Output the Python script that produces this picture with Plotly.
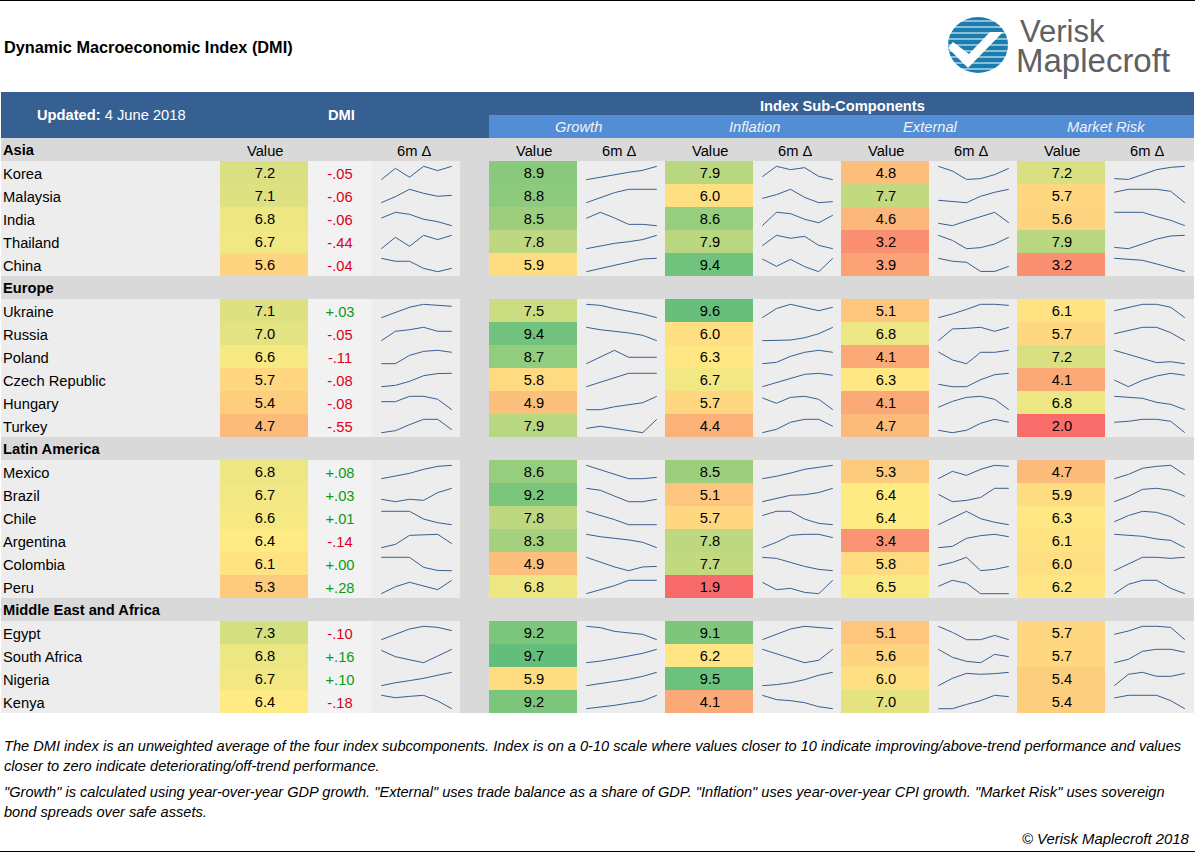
import math
import plotly.graph_objects as go

# ---------- data ----------
groups = ["Asia", "Europe", "Latin America", "Middle East and Africa"]
countries = [
    ["Korea", "Malaysia", "India", "Thailand", "China"],
    ["Ukraine", "Russia", "Poland", "Czech Republic", "Hungary", "Turkey"],
    ["Mexico", "Brazil", "Chile", "Argentina", "Colombia", "Peru"],
    ["Egypt", "South Africa", "Nigeria", "Kenya"],
]
dmi = [7.2, 7.1, 6.8, 6.7, 5.6, 7.1, 7.0, 6.6, 5.7, 5.4, 4.7, 6.8, 6.7, 6.6, 6.4, 6.1, 5.3, 7.3, 6.8, 6.7, 6.4]
delta = ["-.05", "-.06", "-.06", "-.44", "-.04", "+.03", "-.05", "-.11", "-.08", "-.08", "-.55",
         "+.08", "+.03", "+.01", "-.14", "+.00", "+.28", "-.10", "+.16", "+.10", "-.18"]
growth = [8.9, 8.8, 8.5, 7.8, 5.9, 7.5, 9.4, 8.7, 5.8, 4.9, 7.9, 8.6, 9.2, 7.8, 8.3, 4.9, 6.8, 9.2, 9.7, 5.9, 9.2]
inflation = [7.9, 6.0, 8.6, 7.9, 9.4, 9.6, 6.0, 6.3, 6.7, 5.7, 4.4, 8.5, 5.1, 5.7, 7.8, 7.7, 1.9, 9.1, 6.2, 9.5, 4.1]
external = [4.8, 7.7, 4.6, 3.2, 3.9, 5.1, 6.8, 4.1, 6.3, 4.1, 4.7, 5.3, 6.4, 6.4, 3.4, 5.8, 6.5, 5.1, 5.6, 6.0, 7.0]
market = [7.2, 5.7, 5.6, 7.9, 3.2, 6.1, 5.7, 7.2, 4.1, 6.8, 2.0, 4.7, 5.9, 6.3, 6.1, 6.0, 6.2, 5.7, 5.7, 5.4, 5.4]

spark_dmi = [
    [0, 85, 18, 100, 68, 100], [0, 45, 100, 70, 48, 55], [57, 100, 85, 48, 30, 0], [0, 85, 18, 100, 68, 100], [100, 78, 78, 25, 0, 25],
    [0, 40, 78, 100, 92, 85], [0, 70, 82, 100, 70, 70], [0, 0, 62, 92, 100, 85], [0, 10, 40, 82, 98, 100], [60, 60, 100, 100, 78, 0], [0, 15, 60, 100, 100, 22],
    [0, 22, 40, 70, 92, 100], [18, 0, 18, 10, 68, 100], [100, 100, 100, 42, 15, 0], [0, 25, 92, 98, 100, 30], [100, 100, 100, 25, 2, 0], [0, 52, 85, 60, 30, 100],
    [0, 40, 80, 100, 92, 68], [92, 45, 22, 0, 50, 100], [0, 22, 38, 55, 78, 100], [100, 82, 92, 100, 58, 0],
]
spark_growth = [
    [0, 18, 40, 55, 70, 100], [0, 35, 75, 100, 100, 100], [55, 100, 58, 10, 10, 0], [0, 20, 40, 52, 68, 100], [0, 25, 50, 72, 95, 100],
    [100, 92, 68, 50, 28, 0], [100, 82, 70, 58, 40, 0], [0, 48, 100, 48, 48, 48], [0, 35, 70, 100, 100, 100], [0, 0, 22, 38, 52, 100], [32, 48, 32, 18, 0, 100],
    [100, 68, 32, 0, 0, 10], [100, 85, 42, 0, 0, 18], [100, 68, 38, 0, 0, 0], [100, 82, 70, 58, 40, 0], [100, 62, 28, 0, 28, 32], [0, 30, 60, 100, 100, 100],
    [100, 90, 62, 50, 40, 0], [0, 12, 30, 52, 70, 100], [0, 18, 32, 48, 70, 100], [0, 10, 25, 42, 58, 100],
]
spark_inflation = [
    [22, 100, 75, 90, 25, 0], [32, 60, 100, 40, 0, 8], [0, 100, 90, 48, 22, 78], [22, 100, 78, 92, 25, 0], [95, 40, 92, 38, 0, 100],
    [0, 68, 100, 75, 52, 78], [0, 0, 5, 22, 52, 100], [0, 10, 55, 85, 100, 85], [0, 30, 62, 92, 100, 85], [88, 48, 92, 100, 78, 0], [0, 25, 78, 100, 100, 48],
    [0, 18, 42, 70, 85, 100], [0, 22, 48, 52, 68, 100], [68, 100, 100, 42, 10, 0], [0, 40, 92, 100, 100, 75], [100, 92, 62, 32, 10, 0], [85, 30, 40, 10, 0, 100],
    [0, 40, 80, 100, 92, 82], [100, 68, 35, 0, 18, 100], [0, 8, 22, 45, 78, 100], [100, 68, 60, 45, 15, 0],
]
spark_external = [
    [100, 65, 2, 8, 38, 85], [18, 10, 0, 48, 78, 100], [18, 0, 35, 70, 100, 22], [100, 62, 0, 8, 35, 85], [100, 78, 70, 2, 2, 40],
    [0, 28, 62, 100, 100, 92], [0, 88, 92, 100, 70, 100], [88, 28, 0, 85, 85, 100], [18, 0, 0, 52, 90, 100], [18, 62, 92, 100, 78, 0], [18, 0, 18, 70, 100, 78],
    [0, 55, 25, 70, 100, 92], [55, 0, 10, 32, 100, 100], [0, 48, 100, 45, 18, 0], [0, 10, 70, 90, 100, 82], [38, 62, 100, 0, 10, 32], [55, 100, 78, 0, 0, 0],
    [100, 55, 0, 0, 32, 0], [100, 40, 10, 0, 62, 45], [0, 55, 92, 85, 90, 100], [0, 0, 32, 60, 100, 90],
]
spark_market = [
    [8, 2, 38, 75, 92, 100], [78, 100, 100, 100, 85, 0], [100, 100, 100, 68, 40, 0], [10, 0, 35, 72, 95, 100], [100, 92, 85, 58, 30, 0],
    [52, 78, 100, 100, 78, 0], [52, 78, 100, 100, 60, 0], [100, 68, 38, 8, 15, 0], [50, 0, 48, 80, 100, 85], [100, 92, 85, 55, 40, 0], [78, 85, 100, 100, 85, 0],
    [0, 32, 78, 92, 100, 30], [0, 40, 92, 100, 85, 40], [22, 68, 100, 92, 60, 0], [100, 92, 85, 65, 55, 0], [0, 52, 100, 100, 92, 100], [0, 70, 100, 100, 40, 0],
    [40, 65, 100, 100, 92, 0], [0, 25, 85, 100, 100, 78], [0, 85, 100, 70, 70, 92], [80, 100, 100, 100, 60, 0],
]

subcomponents = ["Growth", "Inflation", "External", "Market Risk"]
title = "Dynamic Macroeconomic Index (DMI)"
notes = [
    (746, "The DMI index is an unweighted average of the four index subcomponents. Index is on a 0-10 scale where values closer to 10 indicate improving/above-trend performance and values"),
    (766, "closer to zero indicate deteriorating/off-trend performance."),
    (792, "\"Growth\" is calculated using year-over-year GDP growth. \"External\" uses trade balance as a share of GDP. \"Inflation\" uses year-over-year CPI growth. \"Market Risk\" uses sovereign"),
    (812, "bond spreads over safe assets."),
]

# ---------- layout constants ----------
FONT = "Liberation Sans, Arial, sans-serif"
FS = 14.7
NAVY, BLUE, BAND, CELL, DELTA_BG = "#376092", "#538DD5", "#D9D9D9", "#EDEDED", "#F2F2F2"
ROW_H, TOP, COL_W = 23, 138, 88
RIGHT = 1194
value_cols = [(220, dmi, spark_dmi, 372), (489, growth, spark_growth, 577), (665, inflation, spark_inflation, 753),
              (841, external, spark_external, 929), (1017, market, spark_market, 1105)]

# row layout
band_rows, data_rows = [], []
rows_total = 0
for g, names in zip(groups, countries):
    band_rows.append((g, rows_total))
    rows_total += 1
    for n in names:
        data_rows.append((n, rows_total))
        rows_total += 1
row_y = lambda i: TOP + ROW_H * i
bottom = row_y(rows_total)

fig = go.Figure()
shapes, ann = [], []


def rect(x0, y0, x1, y1, color):
    shapes.append(dict(type="rect", x0=x0, y0=y0, x1=x1, y1=y1, fillcolor=color, line_width=0, layer="below"))


def text(x, y, s, size=FS, color="#000000", anchor="center", family=FONT):
    ann.append(dict(x=x, y=y, text=s, showarrow=False, xanchor=anchor, yanchor="middle",
                    font=dict(size=size, color=color, family=family), xref="x", yref="y",
                    borderpad=0, borderwidth=0, align="left"))


# backgrounds
rect(1, 92, RIGHT, TOP, NAVY)
rect(489, 115, RIGHT, TOP, BLUE)
rect(1, TOP, RIGHT, bottom, BAND)
for _, i in data_rows:
    rect(1, row_y(i), 460, row_y(i + 1), CELL)
    rect(308, row_y(i), 372, row_y(i + 1), DELTA_BG)
    rect(489, row_y(i), RIGHT, row_y(i + 1), CELL)
shapes.extend([
    dict(type="line", x0=0, x1=1195, y0=0.5, y1=0.5, line=dict(color="#000000", width=1)),
    dict(type="line", x0=0, x1=1195, y0=851.5, y1=851.5, line=dict(color="#000000", width=1)),
])

# heat cells, values and sparklines, one set per value column
scale = [[0, "#F8696B"], [(6.4 - 1.9) / 7.8, "#FFEB84"], [1, "#63BE7B"]]
for x0, vals, sparks, sx in value_cols:
    z = [[None] for _ in range(rows_total)]
    for (_, i), v in zip(data_rows, vals):
        z[i] = [v]
    fig.add_trace(go.Heatmap(z=z, x0=x0 + COL_W / 2, dx=COL_W, y0=TOP + ROW_H / 2, dy=ROW_H,
                             zmin=1.9, zmax=9.7, colorscale=scale, showscale=False, hoverongaps=False))
    fig.add_trace(go.Scatter(x=[x0 + COL_W / 2 + 1] * len(vals), y=[row_y(i) + 13.2 for _, i in data_rows],
                             text=[f"{v:.1f}" for v in vals], mode="text", textposition="middle center",
                             textfont=dict(family=FONT, size=FS, color="#000000"), showlegend=False))
    xs, ys = [], []
    for (_, i), pts in zip(data_rows, sparks):
        for k, p in enumerate(pts):
            xs.append(sx + 9.3 + k * 14.1)
            ys.append(row_y(i) + 18.7 - p / 100 * 13.4)
        xs.append(None)
        ys.append(None)
    fig.add_trace(go.Scatter(x=xs, y=ys, mode="lines", line=dict(color=NAVY, width=1),
                             connectgaps=False, showlegend=False))

# delta column
fig.add_trace(go.Scatter(x=[340] * len(delta), y=[row_y(i) + 14 for _, i in data_rows], text=delta, mode="text",
                         textposition="middle center",
                         textfont=dict(family=FONT, size=FS, color=["#D8001C" if d[0] == "-" else "#0A9B14" for d in delta]),
                         showlegend=False))

# labels
for g, i in band_rows:
    text(3, row_y(i) + 11.5, f"<b>{g}</b>", anchor="left")
for n, i in data_rows:
    text(3, row_y(i) + 12.5, n, anchor="left")

text(4, 46.5, f"<b>{title}</b>", size=16.3, anchor="left")
text(111, 114.5, "<b>Updated:</b> 4 June 2018", color="#FFFFFF")
text(341, 114.5, "<b>DMI</b>", color="#FFFFFF")
text(842, 105.5, "<b>Index Sub-Components</b>", color="#FFFFFF")
for (x0, _, _, sx), name in zip(value_cols[1:], subcomponents):
    text(x0 + COL_W + 1, 126.5, f"<i>{name}</i>", color="#F2F2F2")
for x0, _, _, sx in value_cols:
    text(x0 + COL_W / 2 + 1, 150.5, "Value")
    text(sx + 42, 150.5, "6m Δ")

for y, s in notes:
    text(4, y, f"<i>{s}</i>", size=14.6, anchor="left")
text(1190, 839, "<i>© Verisk Maplecroft 2018</i>", size=14.9, anchor="right")

# logo
LOGO = "#1B7CB0"
cx, cy, r = 978, 45, 30
shapes.append(dict(type="circle", x0=cx - r, x1=cx + r, y0=cy - r + 2, y1=cy + r - 2, fillcolor=LOGO, line_width=0))
for dy in range(-24, 28, 6):
    hw = math.sqrt(max(r * r - dy * dy, 0))
    shapes.append(dict(type="line", x0=cx - hw, x1=cx + hw, y0=cy + dy, y1=cy + dy, line=dict(color="#FFFFFF", width=1)))
shapes.append(dict(type="path", path="M 953 42 L 969 54 L 990 32 L 1003 32 L 968 68 L 948 48 Z", fillcolor="#FFFFFF", line_width=0))
text(1020, 31, "Verisk", size=31, color="#5F6062", anchor="left")
text(1016, 60, "Maplecroft", size=33, color="#5F6062", anchor="left")

fig.update_layout(
    width=1195, height=853, margin=dict(l=0, r=0, t=0, b=0),
    paper_bgcolor="#FFFFFF", plot_bgcolor="#FFFFFF", showlegend=False,
    xaxis=dict(range=[0, 1195], visible=False, fixedrange=True),
    yaxis=dict(range=[853, 0], visible=False, fixedrange=True),
    shapes=shapes, annotations=ann, hovermode=False,
)
fig.write_html("out.html", config={"displayModeBar": False},
               post_script="document.body.style.margin='0';document.body.style.overflow='hidden';")
